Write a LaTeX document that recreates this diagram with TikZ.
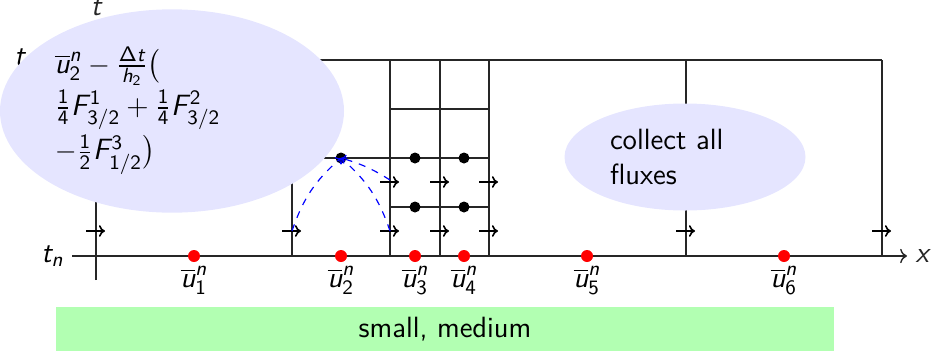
\documentclass[tikz,border=0pt]{standalone}
\usepackage{amsmath}
% sans-serif math in the style of beamer
\DeclareSymbolFont{operators}{TU}{lmss}{m}{n}
\DeclareSymbolFont{letters}{TU}{lmss}{m}{it}
\DeclareSymbolFont{sfgreek}{OT1}{cmss}{m}{n}
\DeclareMathSymbol{\Delta}{\mathalpha}{sfgreek}{"01}
\DeclareMathSymbol{/}{\mathord}{operators}{`/}
\usetikzlibrary{shapes.geometric,arrows.meta}
\tikzset{
  x=0.015cm, y=0.015cm,
  every node/.style={font=\fontsize{12.5}{15}\selectfont\sffamily},
  gridline/.style={line width=0.6pt, black!85},
  flux/.style={-{To[length=2.6pt,width=5pt]}, line width=0.7pt},
  influence/.style={blue, dashed, line width=0.5pt, -{To[length=2pt,width=4pt]}},
  bubble/.style={ellipse, fill=blue!10, inner sep=0pt, align=left},
}
\newcommand{\Fk}[2]{F^{\mkern2mu #1}_{#2}}
\begin{document}
\begin{tikzpicture}
\useasboundingbox (0,0) rectangle (931,351);
% axes
\coordinate (xs) at (72,95);
\coordinate (xe) at (907,95);
\coordinate (ts) at (96,71);
\coordinate (te) at (96,327);
\draw[gridline, ->] (xs) -- (xe) node[right] (xlab) {$x$};
\draw[gridline, ->] (ts) -- (te) node[above] (tlab) {$t$};
\node[left] (tn) at (xs) {$t_n$};
\coordinate (tops) at (72,291);
\node[left] (tn1) at (tops) {$t_{n+1}$};
% grid
\draw[gridline] (tops) -- (882,291);
\foreach \xx in {292,390,440,489,686,882}
  \draw[gridline] (\xx,95) -- (\xx,291);
\draw[gridline] (292,193) -- (489,193);
\draw[gridline] (390,144) -- (489,144);
\draw[gridline] (390,242) -- (489,242);
% flux arrows
\foreach \xx in {96,292,390,440,489,686,882}
  \draw[flux] (\xx-10,120) -- (\xx+9,120);
\foreach \xx in {390,440,489}
  \draw[flux] (\xx-10,169) -- (\xx+9,169);
% stage values
\foreach \xx/\yy/\n in {341/193/s2,415/193/s3a,464/193/s4a,415/144/s3b,464/144/s4b}{
  \coordinate (\n) at (\xx,\yy);
  \fill (\n) circle (5.5);
}
% influence curves
\coordinate (fa) at (292,120);
\coordinate (fb) at (390,120);
\coordinate (fc) at (390,171);
\draw[influence] (fa) to[bend left=15] (s2);
\draw[influence] (fb) to[bend right=15] (s2);
\draw[influence] (fc) to[bend right=8] (s2);
% cell means
\foreach \xx/\i in {194/1,341/2,415/3,464/4,587/5,784/6}{
  \coordinate (m\i) at (\xx,95);
  \fill[red] (m\i) circle (6);
  \node[below=1pt] (u\i) at (m\i) {$\overline{u}_{\i}^n$};
}
% bubbles
\node[bubble, minimum width=5.16cm, minimum height=3.05cm, text width=3.51cm] (e1) at (172,240)
  {$\overline{u}_2^n - \frac{\Delta t}{h_2}\bigl($\\[1pt]
   $\frac14 \Fk{1}{3/2} + \frac14 \Fk{2}{3/2}$\\[1pt]
   $-\frac12 \Fk{3}{1/2}\bigr)$};
\node[bubble, minimum width=3.615cm, minimum height=1.605cm, text width=2.25cm] (e2) at (685,194)
  {collect all\\fluxes};
% bottom bar
\node[fill=green!30, minimum width=11.67cm, minimum height=0.66cm, inner sep=0pt] (bar) at (445,22) {small, medium};
\end{tikzpicture}
\end{document}
